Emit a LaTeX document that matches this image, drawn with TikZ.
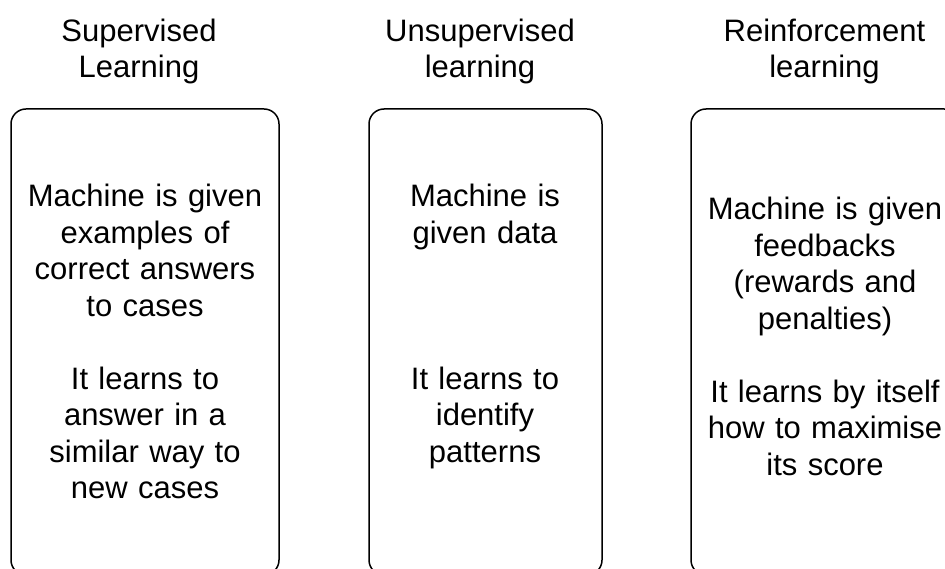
\documentclass[tikz,border=0pt]{standalone}
\usepackage{fontspec}
\setmainfont{Liberation Sans}
\usetikzlibrary{positioning}

\tikzset{
  headText/.style={text=drawColor,anchor=base,inner sep=0pt,outer sep=0pt,text width=260pt,align=center,font=\fontsize{31}{35.5}\selectfont},
  bodyText/.style={text=drawColor,anchor=base,inner sep=0pt,outer sep=0pt,text width=260pt,align=center,font=\fontsize{31}{36.5}\selectfont},
  learnBox/.style={draw=drawColor,line width=1.5pt,rounded corners=15pt,inner sep=0pt,minimum height=466pt}
}

\begin{document}
\begin{tikzpicture}[x=1pt,y=1pt]
\definecolor[named]{fillColor}{rgb}{1.00,1.00,1.00}
\definecolor[named]{drawColor}{rgb}{0.00,0.00,0.00}
\path[use as bounding box,fill=fillColor] (0,0) rectangle (945,568);
\begin{scope}
\path[clip] (  0.00,  0.00) rectangle (945.00,568.00);

\node[headText] (supTitle) at (139.00,526.00) {Supervised\\Learning};

\node[headText] (unsupTitle) at (480.00,526.00) {Unsupervised\\learning};

\node[headText] (reinfTitle) at (824.50,526.00) {Reinforcement\\learning};
\end{scope}
\begin{scope}
\path[clip] (  0.00,  0.00) rectangle (945.00,568.00);

\node[learnBox,minimum width=268pt] (supBox) at (145.00,226.00) {};

\node[learnBox,minimum width=233pt] (unsupBox) at (485.50,226.00) {};

\node[learnBox,minimum width=268pt] (reinfBox) at (825.00,226.00) {};

\node[bodyText] (supText) at (145.00,361.00) {Machine is given\\examples of\\correct answers\\to cases\\[36.5pt]It learns to\\answer in a\\similar way to\\new cases};

\node[bodyText] (unsupText) at (485.00,361.00) {Machine is\\given data\\[109.5pt]It learns to\\identify\\patterns};

\node[bodyText] (reinfText) at (825.00,348.00) {Machine is given\\feedbacks\\(rewards and\\penalties)\\[36.5pt]It learns by itself\\how to maximise\\its score};
\end{scope}
\end{tikzpicture}
\end{document}
